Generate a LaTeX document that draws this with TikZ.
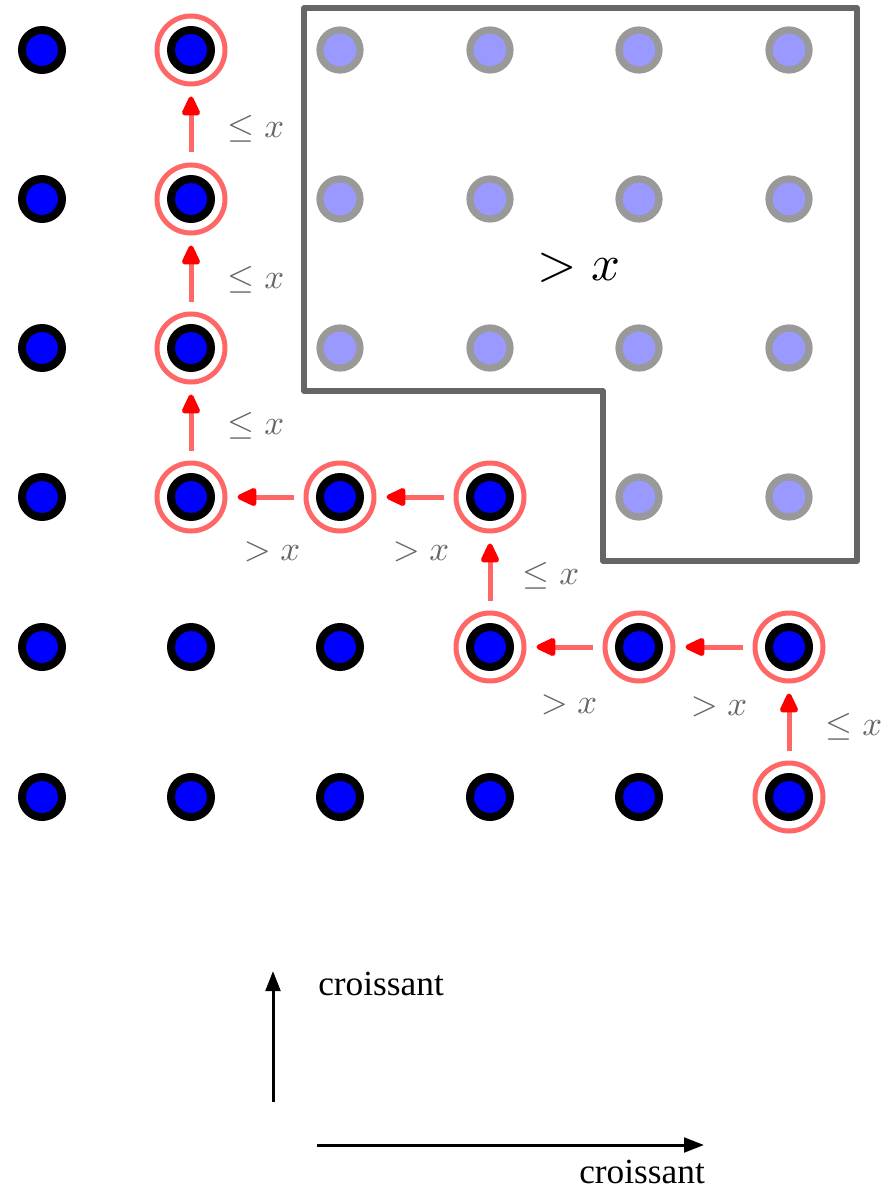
\documentclass[tikz,border=0pt]{standalone}
\usepackage{fontspec}
\newfontfamily\timesfont{Liberation Serif}
\usetikzlibrary{arrows.meta}
\definecolor{ringred}{HTML}{FF6666}
\definecolor{dotgray}{HTML}{999999}
\definecolor{lightblue}{HTML}{9999FF}
\definecolor{boxgray}{HTML}{666666}
\definecolor{labelgray}{HTML}{666666}
\tikzset{
  bluedot/.style={circle, inner sep=0pt, minimum size=30pt, draw=black, line width=6pt, fill=blue},
  graydot/.style={circle, inner sep=0pt, minimum size=30pt, draw=dotgray, line width=5.4pt, fill=lightblue},
  ringnode/.style={circle, inner sep=0pt, minimum size=51pt, draw=ringred, line width=3.75pt},
  flow/.style={draw=ringred, line width=3.75pt, -{Triangle[color=red,length=17pt,width=14.5pt,round]}, shorten >=7.5pt, shorten <=7.5pt},
  lbl/.style={text=labelgray, scale=2.6, inner sep=0pt},
  biglbl/.style={text=black, scale=3.8, inner sep=0pt},
  axislbl/.style={font=\timesfont\fontsize{26.5}{30}\selectfont, inner sep=0pt},
  axisarrow/.style={line width=2.25pt, -{Triangle[length=15pt,width=11pt]}},
  region/.style={draw=boxgray, line width=4.25pt, line join=round}
}
\begin{document}
\begin{tikzpicture}[x=0.75pt,y=-0.75pt]
\useasboundingbox (0,0) rectangle (895,1195);
% region
\draw[region] (304,8) -- (857,8) -- (857,561) -- (603,561) -- (603,391) -- (304,391) -- cycle;
% blue dots
\foreach \c/\r/\n in {42/50/a1, 42/199/a2, 42/348/a3, 42/497/a4, 42/647/a5, 42/797/a6,
  191/50/b1, 191/199/b2, 191/348/b3, 191/497/b4, 191/647/b5, 191/797/b6,
  340/497/c4, 340/647/c5, 340/797/c6,
  490/497/d4, 490/647/d5, 490/797/d6,
  639/647/e5, 639/797/e6,
  789/647/f5, 789/797/f6}
  \node[bluedot] (\n) at (\c,\r) {};
% gray dots
\foreach \c/\r/\n in {340/50/c1, 340/199/c2, 340/348/c3,
  490/50/d1, 490/199/d2, 490/348/d3,
  639/50/e1, 639/199/e2, 639/348/e3, 639/497/e4,
  789/50/f1, 789/199/f2, 789/348/f3, 789/497/f4}
  \node[graydot] (\n) at (\c,\r) {};
% red rings
\foreach \n in {f6, f5, e5, d5, d4, c4, b4, b3, b2, b1}
  \node[ringnode] (r\n) at (\n) {};
% path
\draw[flow] (rf6) -- (rf5);
\draw[flow] (rf5) -- (re5);
\draw[flow] (re5) -- (rd5);
\draw[flow] (rd5) -- (rd4);
\draw[flow] (rd4) -- (rc4);
\draw[flow] (rc4) -- (rb4);
\draw[flow] (rb4) -- (rb3);
\draw[flow] (rb3) -- (rb2);
\draw[flow] (rb2) -- (rb1);
% labels
\node[lbl] (l1) at (256,129) {$\leq x$};
\node[lbl] (l2) at (256,280) {$\leq x$};
\node[lbl] (l3) at (256,426) {$\leq x$};
\node[lbl] (l4) at (551,576) {$\leq x$};
\node[lbl] (l5) at (854,727) {$\leq x$};
\node[lbl] (g1) at (272,552) {$> x$};
\node[lbl] (g2) at (421,552) {$> x$};
\node[lbl] (g3) at (569,705) {$> x$};
\node[lbl] (g4) at (719,707) {$> x$};
\node[biglbl] (big) at (579,268) {$> x$};
% axes
\coordinate (v0) at (273,1102);
\coordinate (v1) at (273,971);
\coordinate (h0) at (317,1145);
\coordinate (h1) at (704,1145);
\draw[axisarrow] (v0) -- (v1);
\draw[axisarrow] (h0) -- (h1);
\node[axislbl, anchor=base west] (t1) at (318,995) {croissant};
\node[axislbl, anchor=base west] (t2) at (579,1183) {croissant};
\end{tikzpicture}
\end{document}
